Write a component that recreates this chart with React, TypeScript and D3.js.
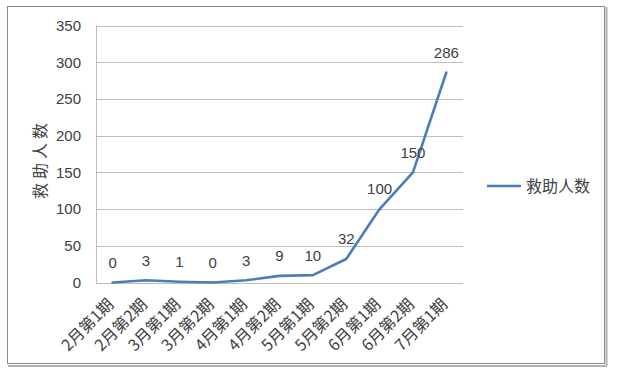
import React from "react";
import * as d3 from "d3";

const categories = ["2月第1期","2月第2期","3月第1期","3月第2期","4月第1期","4月第2期","5月第1期","5月第2期","6月第1期","6月第2期","7月第1期"];
const values = [0, 3, 1, 0, 3, 9, 10, 32, 100, 150, 286];
const yTicks = [0, 50, 100, 150, 200, 250, 300, 350];
const seriesName = "救助人数";

const W = 618, H = 376;
const plot = { left: 96, right: 463, top: 25.5, bottom: 282.5 };
const LINE = "#4A7EBB";
const TEXT = "#404040";
const GRID = "#BEBEBE";
const NUM_FONT = "'Liberation Sans', Arial, sans-serif";
const CJK_FONT = "'Noto Sans CJK SC', sans-serif";

export default function App() {
  const x = d3.scaleBand<string>().domain(categories).range([plot.left, plot.right]);
  const y = d3.scaleLinear().domain([0, 350]).range([plot.bottom, plot.top]);
  const cx = (c: string) => (x(c) as number) + x.bandwidth() / 2;
  const line = d3.line<number>().x((_, i) => cx(categories[i])).y((v) => y(v));

  return (
    <svg width={W} height={H} style={{ position: "fixed", left: 0, top: 0, background: "#fff" }}>
      <rect x={0} y={0} width={W} height={H} fill="#fff" />
      {/* frame with shadow */}
      <line x1={8} y1={366} x2={607} y2={366} stroke="#b0b0b0" strokeWidth={2} />
      <line x1={606.5} y1={7} x2={606.5} y2={366} stroke="#b0b0b0" strokeWidth={2} />
      <rect x={7.5} y={6.5} width={597} height={357} fill="#fff" stroke="#8a8a8a" strokeWidth={1} />

      {/* gridlines */}
      {yTicks.map((t) => (
        <line key={t} x1={plot.left} x2={plot.right} y1={Math.round(y(t)) + 0.5} y2={Math.round(y(t)) + 0.5} stroke={GRID} strokeWidth={1} />
      ))}
      <line x1={plot.left + 0.5} x2={plot.left + 0.5} y1={plot.top} y2={plot.bottom + 1} stroke={GRID} strokeWidth={1} />

      {/* y tick labels */}
      {yTicks.map((t) => (
        <text key={t} x={81} y={y(t)} dy="0.36em" textAnchor="end" fontFamily={NUM_FONT} fontSize={15} fill={TEXT}>{t}</text>
      ))}

      {/* y title */}
      <text transform={`translate(46,159) rotate(-90)`} textAnchor="middle" fontFamily={CJK_FONT} fontSize={16} letterSpacing={4} fill={TEXT}>{seriesName}</text>

      {/* x labels */}
      {categories.map((c) => (
        <text key={c} transform={`translate(${cx(c) + 2},${plot.bottom + 23}) rotate(-45)`} textAnchor="end" fontFamily={CJK_FONT} fontSize={16} fill={TEXT}>{c}</text>
      ))}

      {/* line */}
      <path d={line(values) || ""} fill="none" stroke={LINE} strokeWidth={2.6} strokeLinejoin="round" strokeLinecap="round" />

      {/* data labels */}
      {values.map((v, i) => (
        <text key={i} x={cx(categories[i])} y={y(v) - 20} dy="0.36em" textAnchor="middle" fontFamily={NUM_FONT} fontSize={15} fill={TEXT}>{v}</text>
      ))}

      {/* legend */}
      <line x1={487} x2={521} y1={186} y2={186} stroke={LINE} strokeWidth={2.6} />
      <text x={526} y={186} dy="0.36em" fontFamily={CJK_FONT} fontSize={16} fill={TEXT}>{seriesName}</text>
    </svg>
  );
}
